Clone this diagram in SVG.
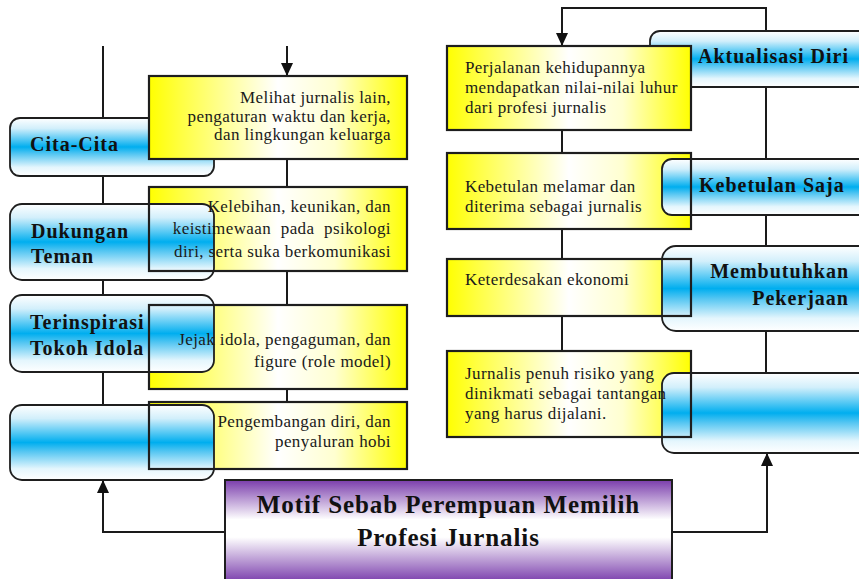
<svg xmlns="http://www.w3.org/2000/svg" width="859" height="579" viewBox="0 0 859 579">
<defs>
<linearGradient id="gBlue" x1="0" y1="0" x2="0" y2="1">
<stop offset="0" stop-color="#ffffff"/>
<stop offset="0.18" stop-color="#d2effb"/>
<stop offset="0.5" stop-color="#00aeef"/>
<stop offset="0.62" stop-color="#55c6f2"/>
<stop offset="0.85" stop-color="#e4f6fd"/>
<stop offset="1" stop-color="#ffffff"/>
</linearGradient>
<linearGradient id="gYellow" x1="0" y1="0" x2="1" y2="0">
<stop offset="0" stop-color="#ffff00"/>
<stop offset="0.12" stop-color="#ffff40"/>
<stop offset="0.5" stop-color="#ffffff"/>
<stop offset="0.72" stop-color="#ffffd0"/>
<stop offset="1" stop-color="#ffff00"/>
</linearGradient>
<linearGradient id="gPurple" x1="0" y1="0" x2="0" y2="1">
<stop offset="0" stop-color="#7a3dac"/>
<stop offset="0.38" stop-color="#ffffff"/>
<stop offset="0.55" stop-color="#ffffff"/>
<stop offset="1" stop-color="#7435a8"/>
</linearGradient>
<marker id="arr" markerUnits="userSpaceOnUse" markerWidth="13" markerHeight="12" refX="13" refY="6" orient="auto">
<path d="M0,0 L13,6 L0,12 z" fill="#111"/>
</marker>
<style>
.ln{fill:none;stroke:#1a1a1a;stroke-width:2}
.blue{fill:url(#gBlue);stroke:#1e1e1e;stroke-width:1.8}
.yfill{fill:url(#gYellow);stroke:none}
.yline{fill:none;stroke:#1e1e1e;stroke-width:2.2}
.pur{fill:url(#gPurple);stroke:#1e1e1e;stroke-width:2}
.lab{font-family:"Liberation Serif","Times New Roman",serif;font-weight:bold;font-size:20px;letter-spacing:1px;fill:#111}
.txt{font-family:"Liberation Serif","Times New Roman",serif;font-size:17px;letter-spacing:0.4px;fill:#1a1a1a}
.end{text-anchor:end}
.main{font-family:"Liberation Serif","Times New Roman",serif;font-weight:bold;font-size:25px;letter-spacing:0.9px;fill:#111;text-anchor:middle}
</style>
</defs>
<rect width="859" height="579" fill="#ffffff"/>

<g id="connectors">
<path class="ln" d="M103 46 V480"/>
<path class="ln" d="M287 46 V76" marker-end="url(#arr)"/>
<path class="ln" d="M287 159 V402"/>
<path class="ln" d="M766 31 V8 H562 V46" marker-end="url(#arr)"/>
<path class="ln" d="M562 130 V351"/>
<path class="ln" d="M766 87 V373"/>
<path class="ln" d="M225 532 H103 V480" marker-end="url(#arr)"/>
<path class="ln" d="M672 532 H767 V453" marker-end="url(#arr)"/>
</g>

<!-- left column -->
<g id="node-cita-cita">
<rect class="blue" x="10" y="118" width="204" height="58" rx="10"/>
<text class="lab" x="30" y="151">Cita-Cita</text>
</g>
<g id="node-melihat">
<rect class="yfill" x="149" y="76" width="258" height="83"/>
<rect class="yline" x="149" y="76" width="258" height="83"/>
<text class="txt end" x="391" y="103">Melihat jurnalis lain,</text>
<text class="txt end" x="391" y="121.5">pengaturan waktu dan kerja,</text>
<text class="txt end" x="391" y="140">dan lingkungan keluarga</text>
</g>

<g id="node-kelebihan-fill"><rect class="yfill" x="149" y="187" width="258" height="84"/></g>
<g id="node-dukungan">
<rect class="blue" x="10" y="204" width="204" height="76" rx="12"/>
<text class="lab" x="31" y="238">Dukungan</text>
<text class="lab" x="31" y="263">Teman</text>
</g>
<g id="node-kelebihan">
<rect class="yline" x="149" y="187" width="258" height="84"/>
<text class="txt end" x="391" y="212">Kelebihan, keunikan, dan</text>
<text class="txt end" x="391" y="234" style="word-spacing:5px">keistimewaan pada psikologi</text>
<text class="txt end" x="391" y="256.5">diri, serta suka berkomunikasi</text>
</g>

<g id="node-jejak-fill"><rect class="yfill" x="149" y="305" width="258" height="84"/></g>
<g id="node-terinspirasi">
<rect class="blue" x="10" y="295" width="204" height="77" rx="12"/>
<text class="lab" x="30" y="329">Terinspirasi</text>
<text class="lab" x="30" y="355">Tokoh Idola</text>
</g>
<g id="node-jejak">
<rect class="yline" x="149" y="305" width="258" height="84"/>
<text class="txt end" x="391" y="345">Jejak idola, pengaguman, dan</text>
<text class="txt end" x="391" y="367">figure (role model)</text>
</g>

<g id="node-pengembangan-fill"><rect class="yfill" x="149" y="402" width="258" height="67"/></g>
<g id="node-blank-left">
<rect class="blue" x="10" y="405" width="204" height="75" rx="12"/>
</g>
<g id="node-pengembangan">
<rect class="yline" x="149" y="402" width="258" height="67"/>
<text class="txt end" x="391" y="427">Pengembangan diri, dan</text>
<text class="txt end" x="391" y="447">penyaluran hobi</text>
</g>

<!-- right column -->
<g id="node-aktualisasi">
<rect class="blue" x="650" y="31" width="230" height="56" rx="10"/>
<text class="lab" x="698" y="63">Aktualisasi Diri</text>
</g>
<g id="node-perjalanan">
<rect class="yfill" x="447" y="46" width="244" height="84"/>
<rect class="yline" x="447" y="46" width="244" height="84"/>
<text class="txt" x="465" y="73">Perjalanan kehidupannya</text>
<text class="txt" x="465" y="93">mendapatkan nilai-nilai luhur</text>
<text class="txt" x="465" y="112.5">dari profesi jurnalis</text>
</g>

<g id="node-melamar-fill"><rect class="yfill" x="447" y="153" width="244" height="76"/></g>
<g id="node-kebetulan">
<rect class="blue" x="662" y="159" width="220" height="56" rx="10"/>
<text class="lab" x="699" y="192">Kebetulan Saja</text>
</g>
<g id="node-melamar">
<rect class="yline" x="447" y="153" width="244" height="76"/>
<text class="txt" x="465" y="192">Kebetulan melamar dan</text>
<text class="txt" x="465" y="212">diterima sebagai jurnalis</text>
</g>

<g id="node-ekonomi-fill"><rect class="yfill" x="447" y="259" width="244" height="57"/></g>
<g id="node-membutuhkan">
<rect class="blue" x="662" y="246" width="220" height="85" rx="14"/>
<text class="lab end" x="849" y="278">Membutuhkan</text>
<text class="lab end" x="849" y="305">Pekerjaan</text>
</g>
<g id="node-ekonomi">
<rect class="yline" x="447" y="259" width="244" height="57"/>
<text class="txt" x="465" y="285">Keterdesakan ekonomi</text>
</g>

<g id="node-risiko-fill"><rect class="yfill" x="447" y="351" width="244" height="86"/></g>
<g id="node-blank-right">
<rect class="blue" x="662" y="373" width="220" height="80" rx="12"/>
</g>
<g id="node-risiko">
<rect class="yline" x="447" y="351" width="244" height="86"/>
<text class="txt" x="465" y="379">Jurnalis penuh risiko yang</text>
<text class="txt" x="465" y="399">dinikmati sebagai tantangan</text>
<text class="txt" x="465" y="419">yang harus dijalani.</text>
</g>

<g id="node-motif">
<rect class="pur" x="225" y="480" width="447" height="104"/>
<text class="main" x="448.5" y="513">Motif Sebab Perempuan Memilih</text>
<text class="main" x="448.5" y="546">Profesi Jurnalis</text>
</g>
</svg>
